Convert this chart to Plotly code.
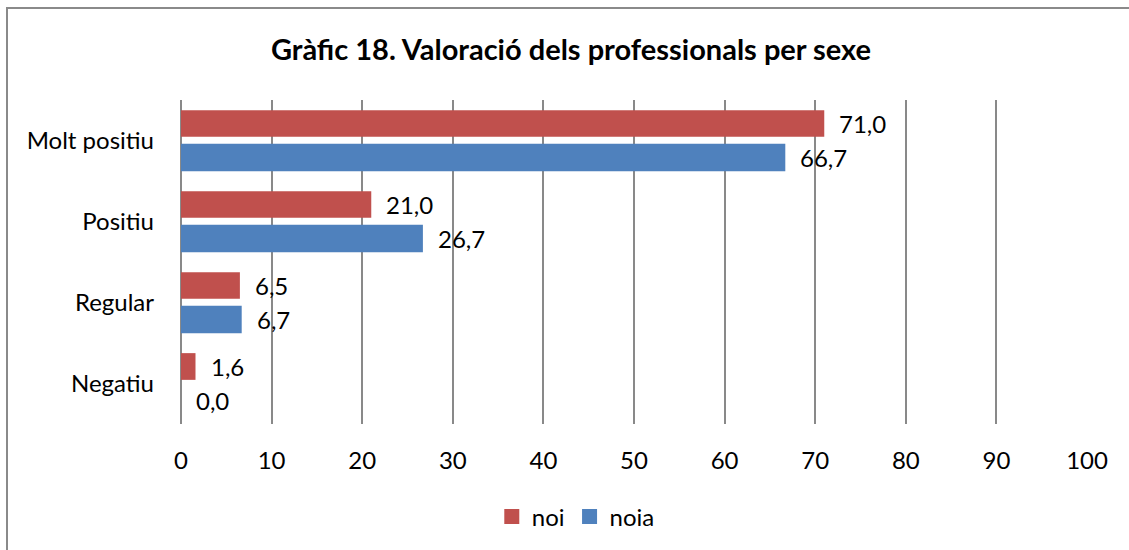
import plotly.graph_objects as go

categories = ["Molt positiu", "Positiu", "Regular", "Negatiu"]
noi = [71.0, 21.0, 6.5, 1.6]
noia = [66.7, 26.7, 6.7, 0.0]
series_names = ["noi", "noia"]
x_ticks = [0, 10, 20, 30, 40, 50, 60, 70, 80, 90, 100]

RED = "#C0504D"
BLUE = "#4F81BD"
GRID = "#898989"
FONT = "Lato"
FS = 24

fig = go.Figure()
fig.add_trace(go.Bar(
    name=series_names[0], y=categories, x=noi, orientation="h",
    marker=dict(color=RED, line=dict(width=0)),
    width=0.33, offset=-0.375, showlegend=False,
))
fig.add_trace(go.Bar(
    name=series_names[1], y=categories, x=noia, orientation="h",
    marker=dict(color=BLUE, line=dict(width=0)),
    width=0.34, offset=0.04, showlegend=False,
))
# legend entries with larger square swatches
for name, col in zip(series_names, (RED, BLUE)):
    fig.add_trace(go.Scatter(
        name=name, x=[None], y=[None], mode="markers",
        marker=dict(symbol="square", size=15, color=col),
        showlegend=True,
    ))

annotations = []
for vals, shift in ((noi, 17), (noia, -17)):
    for cat, v in zip(categories, vals):
        annotations.append(dict(
            x=v, y=cat, xref="x", yref="y",
            text=f"{v:.1f}".replace(".", ","),
            showarrow=False, xanchor="left", yanchor="middle",
            xshift=13, yshift=shift,
            font=dict(family=FONT, size=FS, color="black"),
        ))

fig.update_layout(
    width=1129, height=550,
    margin=dict(l=181, r=42, t=100, b=126),
    paper_bgcolor="white", plot_bgcolor="white",
    barmode="group",
    font=dict(family=FONT, size=FS, color="black"),
    title=dict(
        text="<b>Gràfic 18. Valoració dels professionals per sexe</b>",
        x=571 / 1129, xref="container", xanchor="center",
        y=1 - 50 / 550, yref="container", yanchor="middle",
        font=dict(family=FONT, size=29, color="black"),
    ),
    xaxis=dict(
        range=[0, 100], tickvals=x_ticks, ticktext=[str(t) for t in x_ticks],
        showgrid=True, gridcolor=GRID, gridwidth=2,
        zeroline=True, zerolinecolor=GRID, zerolinewidth=2,
        showline=False, ticks="", ticklabelstandoff=20,
        tickfont=dict(family=FONT, size=FS, color="black"),
        fixedrange=True,
    ),
    yaxis=dict(
        categoryorder="array", categoryarray=categories, autorange="reversed",
        showgrid=False, zeroline=False, showline=False, ticks="",
        ticklabelstandoff=26,
        tickfont=dict(family=FONT, size=FS, color="black"),
        fixedrange=True,
    ),
    legend=dict(
        orientation="h", xref="container", yref="container",
        x=0.51, xanchor="center", y=1 - 517 / 550, yanchor="middle",
        font=dict(family=FONT, size=FS, color="black"),
        itemwidth=30, traceorder="normal",
    ),
    showlegend=True,
    annotations=annotations,
    shapes=[dict(
        type="rect", xref="paper", yref="paper",
        x0=(7 - 181) / 906, x1=1.2, y0=-0.6, y1=(424 - 8) / 324,
        line=dict(color="#8a8a8a", width=2), fillcolor="rgba(0,0,0,0)",
        layer="below",
    )],
)

fig.write_html(
    "out.html",
    config={"displayModeBar": False},
    post_script="document.body.style.margin='0';",
)
